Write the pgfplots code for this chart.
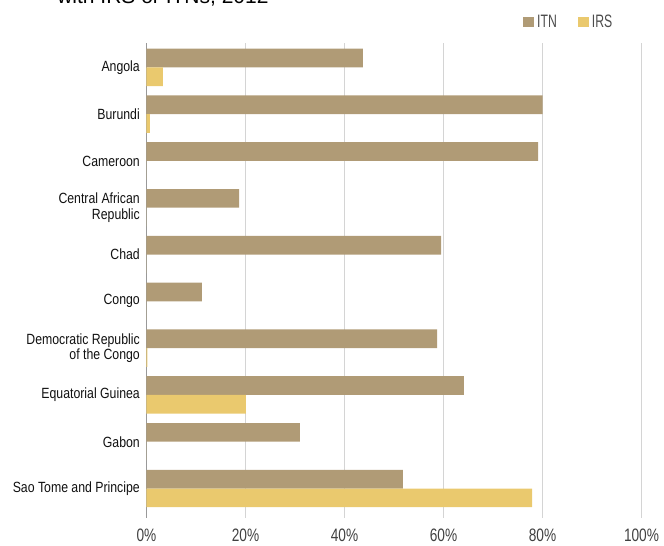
\documentclass[border=0pt]{standalone}
\usepackage{pgfplots}
\pgfplotsset{compat=1.18}
\usepackage{fontspec}
\setmainfont{Liberation Sans}[FakeStretch=0.82]
\newfontfamily\titlefont{Liberation Sans}
\newfontfamily\labfont{Liberation Sans}[FakeStretch=0.83]
\newfontfamily\tickfont{Liberation Sans}[FakeStretch=0.76]
\newfontfamily\legfont{Liberation Sans}[FakeStretch=0.68]
\definecolor{itn}{HTML}{B09B76}
\definecolor{irs}{HTML}{EAC96E}
\definecolor{lab}{HTML}{111111}
\begin{document}
\begin{tikzpicture}
\begin{axis}[
  xbar,
  scale only axis,
  width=371.25pt, height=356.25pt,
  at={(109.875pt,21pt)}, anchor=south west,
  xmin=0, xmax=100,
  ymin=-0.52, ymax=9.63,
  y dir=reverse,
  bar width=0.4,
  axis x line*=bottom,
  axis y line*=left,
  x axis line style={draw=none},
  y axis line style={draw=black!40, line width=0.8pt},
  xmajorgrids,
  grid style={draw=black!17, line width=0.6pt},
  major tick length=0pt,
  tick style={draw=none},
  xtick={0,20,40,60,80,100},
  xticklabel={\pgfmathprintnumber{\tick}\%},
  /pgf/number format/assume math mode=true,
  xticklabel style={font=\tickfont\fontsize{13.5}{15}\selectfont, text=black!75, yshift=-5pt},
  ytick={0,...,9},
  yticklabels={Angola,Burundi,Cameroon,{Central African\\Republic},Chad,Congo,{Democratic Republic\\of the Congo},Equatorial Guinea,Gabon,Sao Tome and Principe},
  yticklabel style={font=\labfont\fontsize{11.1}{11.6}\selectfont, text=lab, align=right, xshift=-1.5pt},
  legend image code/.code={\fill[#1] (0pt,-4.1pt) rectangle (8.25pt,4.1pt);},
  legend columns=2,
  legend style={at={(axis description cs:0.761,1.0)}, anchor=west, yshift=15.75pt,
    draw=none, fill=none, inner sep=0pt, font=\legfont\fontsize{13.5}{15}\selectfont,
    text=black!70,
    /tikz/every even column/.append style={column sep=14pt}},
]
\addplot[fill=itn, draw=none, bar shift=-0.2] coordinates {
(43.7,0) (80.0,1) (79.1,2) (18.7,3) (59.5,4) (11.2,5) (58.7,6) (64.1,7) (31.0,8) (51.8,9)};
\addplot[fill=irs, draw=none, bar shift=0.2] coordinates {
(3.3,0) (0.7,1) (0,2) (0,3) (0,4) (0,5) (0.2,6) (20.1,7) (0,8) (77.9,9)};
\legend{ITN,IRS}
\end{axis}
\node[anchor=base west, inner sep=0pt, font=\titlefont\fontsize{15.75}{18}\selectfont] at (42.75pt,406.5pt) {with IRS or ITNs, 2012};
\pgfresetboundingbox
\useasboundingbox (0,0) rectangle (498pt,409.5pt);
\end{tikzpicture}
\end{document}
